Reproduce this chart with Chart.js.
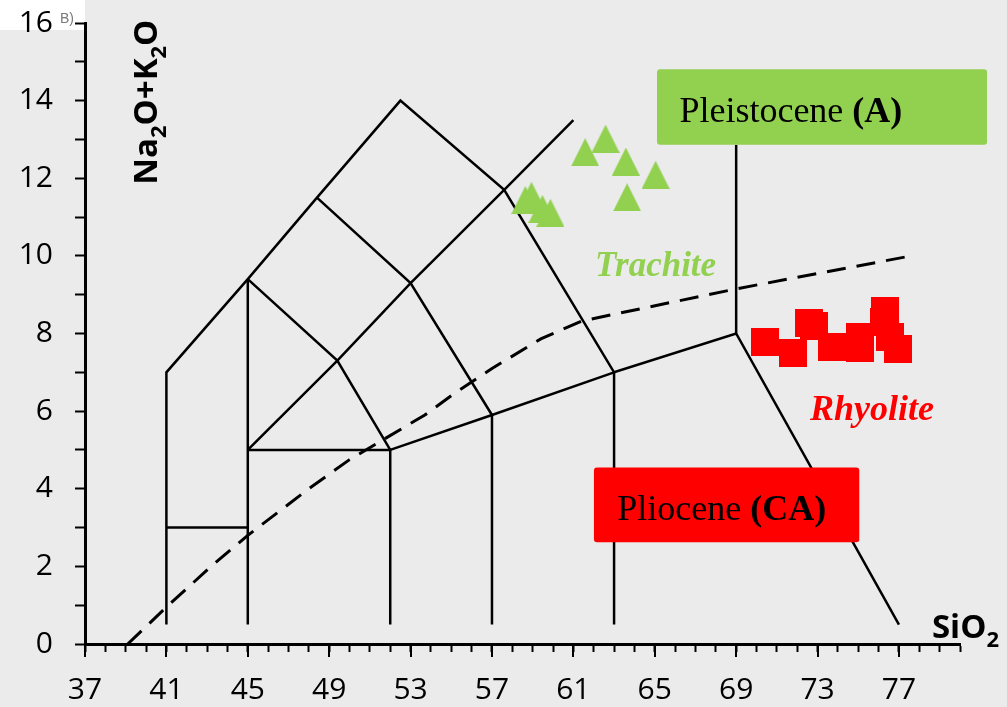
<!DOCTYPE html>
<html>
<head>
<meta charset="utf-8">
<script src="https://cdn.jsdelivr.net/npm/chart.js@4.4.0/dist/chart.umd.min.js"></script>
<style>
  html, body { margin: 0; padding: 0; background: #ebebeb; }
  #wrap { width: 1007px; height: 707px; }
</style>
</head>
<body>
<div id="wrap"><canvas id="tas" width="1007" height="707"></canvas></div>
<script>
// samples (SiO2 wt%, Na2O+K2O wt%)
let pleistoceneSiO2 = [58.64, 58.94, 59.48, 59.87, 61.58, 62.58, 63.58, 63.64, 65.04];
let pleistoceneAlk = [11.44, 11.55, 11.21, 11.11, 12.67, 13.02, 12.43, 11.51, 12.09];
let plioceneSiO2 = [70.42, 71.79, 72.58, 72.81, 73.71, 75.08, 75.08, 76.31, 76.25, 76.58, 76.96];
let plioceneAlk = [7.79, 7.49, 8.27, 8.20, 7.65, 7.90, 7.62, 8.59, 8.30, 7.91, 7.60];

// alkaline / subalkaline divide (dashed)
let dividerSiO2 = [39.1, 41, 43.2, 45, 48, 50, 53.7, 55, 57, 59.4, 61.4, 69, 77.6];
let dividerAlk = [0, 0.95, 2.0, 2.8, 4.0, 4.75, 5.9, 6.4, 7.1, 7.86, 8.32, 9.15, 10.0];

// TAS field boundaries, each one a polyline of [SiO2, Na2O+K2O]
let fieldLines = [
  [[41, 0.5], [41, 7], [45, 9.4], [48.4, 11.5], [52.5, 14], [57.6, 11.7], [63, 7], [69, 8], [77, 0.5]],
  [[45, 0.5], [45, 9.4]],
  [[41, 3], [45, 3]],
  [[45, 5], [52, 5], [52, 0.5]],
  [[52, 5], [57, 5.9], [63, 7]],
  [[57, 5.9], [57, 0.5]],
  [[63, 7], [63, 0.5]],
  [[45, 5], [49.4, 7.3], [53, 9.3], [57.6, 11.7], [61, 13.5]],
  [[45, 9.4], [49.4, 7.3], [52, 5]],
  [[48.4, 11.5], [53, 9.3], [57, 5.9]],
  [[69, 8], [69, 12.86]]
];

let xTickLabels = ['37', '41', '45', '49', '53', '57', '61', '65', '69', '73', '77'];
let yTickLabels = ['0', '2', '4', '6', '8', '10', '12', '14', '16'];

const GREEN = '#92d050';
const RED = '#ff0000';

// excel style markers
function makeMarker(kind, color) {
  const c = document.createElement('canvas');
  c.width = 28; c.height = 28;
  const g = c.getContext('2d');
  g.fillStyle = color;
  if (kind === 'tri') {
    g.beginPath();
    g.moveTo(14, 0); g.lineTo(28, 28); g.lineTo(0, 28);
    g.closePath();
    g.fill();
  } else {
    g.fillRect(0, 0, 28, 28);
  }
  return c;
}
const triMarker = makeMarker('tri', GREEN);
const sqMarker = makeMarker('sq', RED);

function toPts(xs, ys) {
  return xs.map((x, i) => ({x: x, y: ys[i]}));
}

let datasets = [
  {label: 'Pleistocene', data: toPts(pleistoceneSiO2, pleistoceneAlk), pointStyle: triMarker, pointRadius: 14, showLine: false},
  {label: 'Pliocene', data: toPts(plioceneSiO2, plioceneAlk), pointStyle: sqMarker, pointRadius: 14, showLine: false},
  {label: 'divider', data: toPts(dividerSiO2, dividerAlk), showLine: true, borderColor: '#000', borderWidth: 3,
   borderDash: [19, 11], pointRadius: 0, tension: 0}
];
fieldLines.forEach(seg => {
  datasets.push({
    label: 'field',
    data: seg.map(p => ({x: p[0], y: p[1]})),
    showLine: true, borderColor: '#000', borderWidth: 2.5, pointRadius: 0, tension: 0
  });
});

// text pieces, drawn one after another on a shared baseline
function drawRuns(ctx, x, y, runs) {
  let cx = x;
  runs.forEach(r => {
    ctx.font = r.font;
    ctx.fillText(r.t, cx, y + (r.dy || 0));
    cx += ctx.measureText(r.t).width;
  });
}

function labelBox(ctx, x0, y0, x1, y1, color) {
  ctx.fillStyle = color;
  ctx.beginPath();
  ctx.roundRect(x0, y0, x1 - x0, y1 - y0, 3);
  ctx.fill();
}

const decor = {
  id: 'decor',
  beforeDraw(chart) {
    const ctx = chart.ctx;
    ctx.save();
    ctx.fillStyle = '#ebebeb';
    ctx.fillRect(0, 0, chart.width, chart.height);
    ctx.fillStyle = '#ffffff';
    ctx.fillRect(0, 0, 85, 30);
    ctx.fillStyle = '#7a7a7a';
    ctx.font = '14px "Liberation Sans"';
    ctx.fillText('B)', 60, 23);
    ctx.restore();
  },
  afterDatasetsDraw(chart) {
    const ctx = chart.ctx;
    const xs = chart.scales.x, ys = chart.scales.y;
    const px = v => xs.getPixelForValue(v);
    const py = v => ys.getPixelForValue(v);
    ctx.save();
    labelBox(ctx, px(65.11), py(14.81), px(81.33), py(12.86), GREEN);
    labelBox(ctx, px(62.01), py(4.55), px(75.05), py(2.62), RED);

    ctx.fillStyle = '#000';
    ctx.textBaseline = 'alphabetic';
    drawRuns(ctx, px(66.21), py(13.46), [
      {t: 'Pleistocene ', font: '36px "Liberation Serif"'},
      {t: '(A)', font: 'bold 36px "Liberation Serif"'}
    ]);
    drawRuns(ctx, px(63.16), py(3.19), [
      {t: 'Pliocene ', font: '36px "Liberation Serif"'},
      {t: '(CA)', font: 'bold 36px "Liberation Serif"'}
    ]);

    ctx.fillStyle = GREEN;
    ctx.font = 'italic bold 35px "Liberation Serif"';
    ctx.fillText('Trachite', px(62.06), py(9.48));
    ctx.fillStyle = RED;
    ctx.font = 'italic bold 36px "Liberation Serif"';
    ctx.fillText('Rhyolite', px(72.63), py(5.77));

    // axis titles
    ctx.fillStyle = '#000';
    drawRuns(ctx, px(78.62), py(0.155), [
      {t: 'SiO', font: 'bold 33px "Open Sans"'},
      {t: '2', font: 'bold 22px "Open Sans"', dy: 9}
    ]);
    ctx.translate(px(40.55), py(11.83));
    ctx.rotate(-Math.PI / 2);
    drawRuns(ctx, 0, 0, [
      {t: 'Na', font: 'bold 33px "Open Sans"'},
      {t: '2', font: 'bold 22px "Open Sans"', dy: 9},
      {t: 'O+K', font: 'bold 33px "Open Sans"'},
      {t: '2', font: 'bold 22px "Open Sans"', dy: 9},
      {t: 'O', font: 'bold 33px "Open Sans"'}
    ]);
    ctx.restore();
  },
  afterDraw(chart) {
    // longer ticks under the labelled SiO2 values
    const ctx = chart.ctx;
    const xs = chart.scales.x;
    const base = chart.chartArea.bottom;
    ctx.save();
    ctx.strokeStyle = '#000';
    ctx.lineWidth = 2;
    xTickLabels.forEach(l => {
      const x = Math.round(xs.getPixelForValue(Number(l)));
      ctx.beginPath();
      ctx.moveTo(x, base);
      ctx.lineTo(x, base + 13);
      ctx.stroke();
    });
    ctx.restore();
  }
};

const tickFont = {family: 'Open Sans', size: 30};

new Chart(document.getElementById('tas'), {
  type: 'scatter',
  data: {datasets: datasets},
  plugins: [decor],
  options: {
    responsive: false,
    animation: false,
    events: [],
    layout: {padding: {top: 23, right: 47, left: 0, bottom: 0}},
    plugins: {legend: {display: false}, tooltip: {enabled: false}},
    scales: {
      x: {
        type: 'linear', min: 37, max: 80,
        afterBuildTicks: s => {
          const t = [];
          for (let v = 37; v <= 80; v++) t.push({value: v});
          s.ticks = t;
        },
        afterFit: s => {
          s.height = 63;
          s.paddingLeft = 0; s.paddingRight = 0;
        },
        border: {display: true, color: '#000', width: 3},
        grid: {drawOnChartArea: false, drawTicks: true, tickLength: 8, tickColor: '#000', tickWidth: 2},
        ticks: {
          autoSkip: false, maxRotation: 0, color: '#000', font: tickFont, padding: 20,
          callback: v => xTickLabels.includes(String(v)) ? String(v) : ''
        }
      },
      y: {
        type: 'linear', min: 0, max: 16,
        afterBuildTicks: s => {
          const t = [];
          for (let v = 0; v <= 16; v++) t.push({value: v});
          s.ticks = t;
        },
        afterFit: s => {
          s.width = 85;
          s.paddingTop = 0; s.paddingBottom = 0;
        },
        border: {display: true, color: '#000', width: 3},
        grid: {drawOnChartArea: false, drawTicks: true, tickLength: 10, tickColor: '#000', tickWidth: 2},
        ticks: {
          autoSkip: false, color: '#000', font: tickFont, padding: 22,
          callback: v => yTickLabels.includes(String(v)) ? String(v) : ''
        }
      }
    }
  }
});
</script>
</body>
</html>
